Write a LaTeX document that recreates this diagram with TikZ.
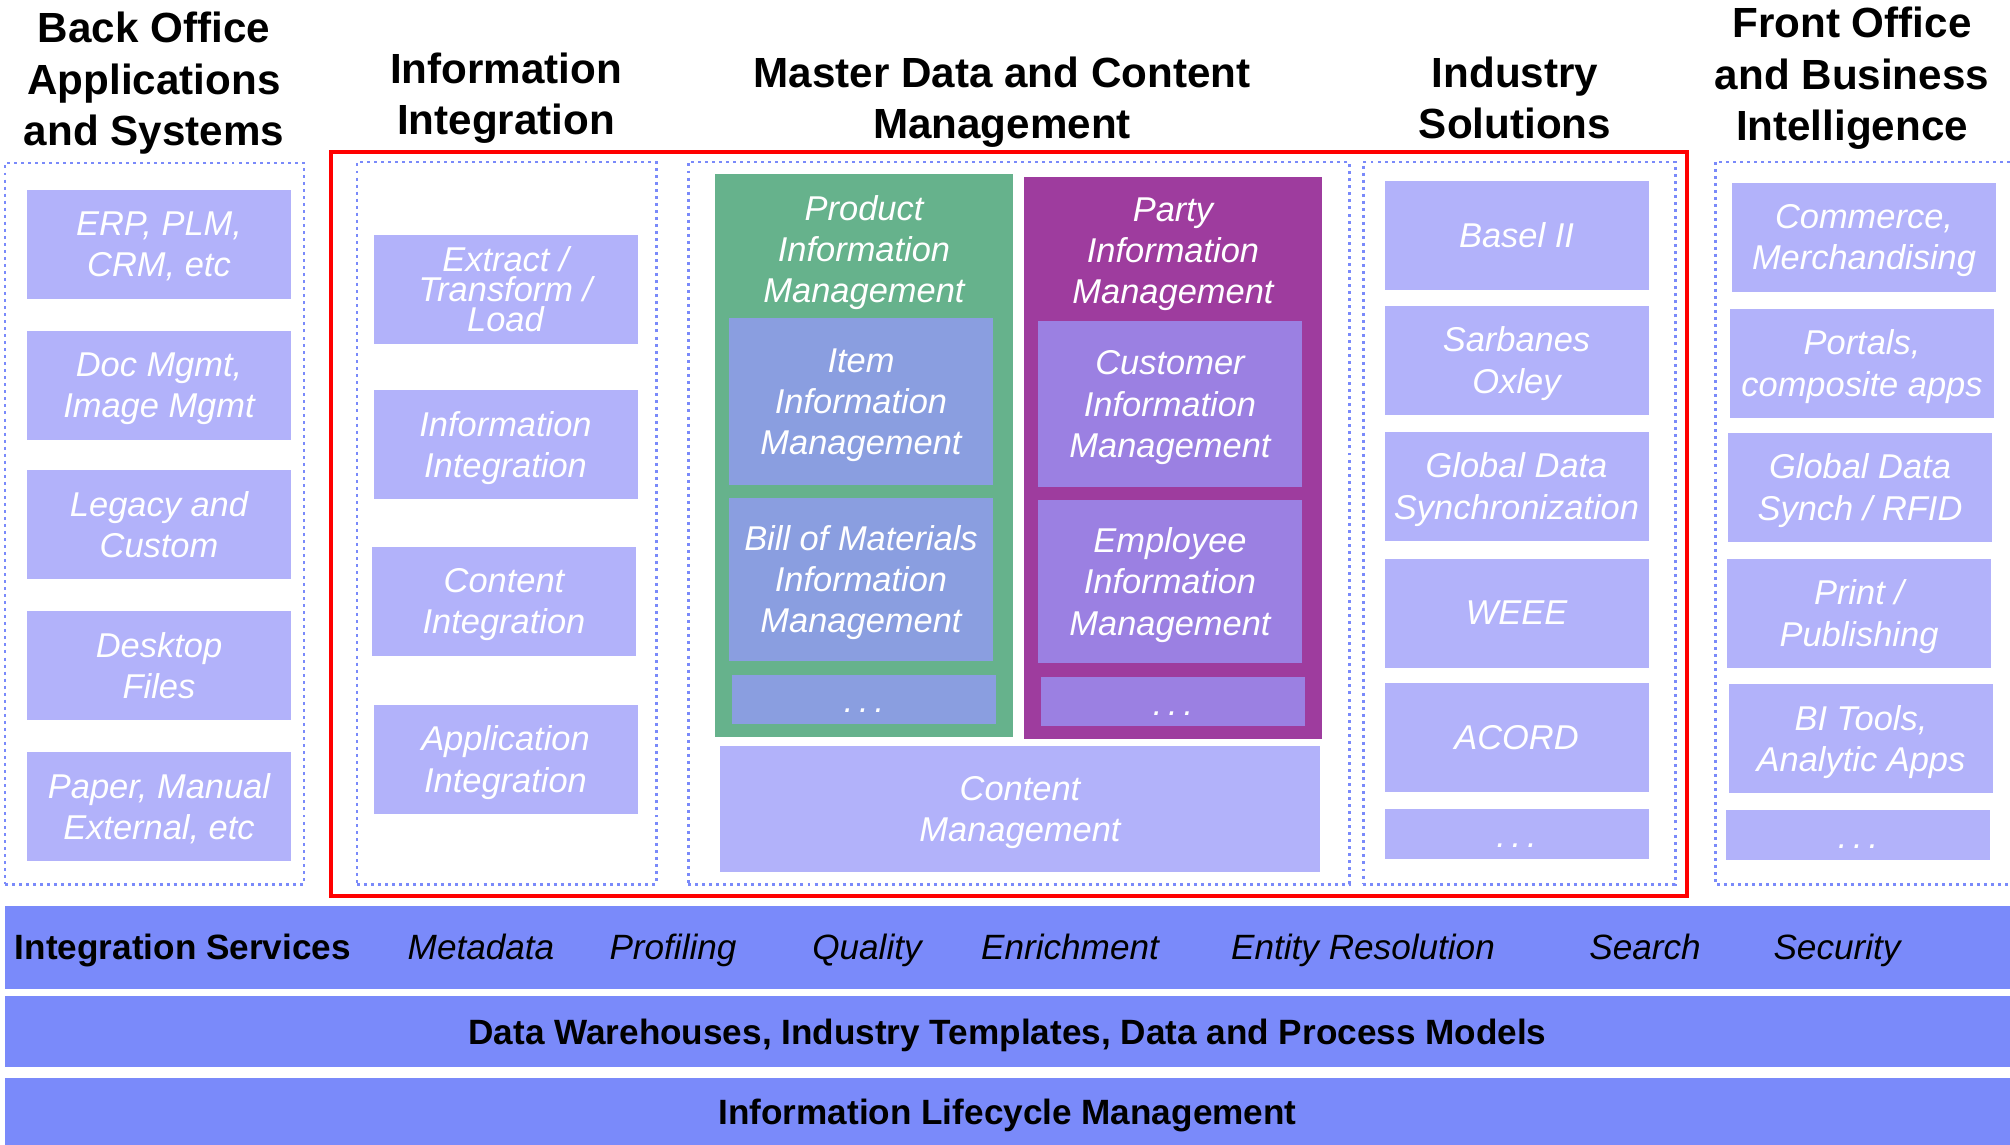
\documentclass[tikz,border=0pt]{standalone}
\usepackage{fontspec}
\setmainfont{Liberation Sans}
\usepackage{tikz}

\definecolor{appblue}{RGB}{178,178,250}
\definecolor{barblue}{RGB}{122,138,250}
\definecolor{pimgreen}{RGB}{102,178,140}
\definecolor{itemblue}{RGB}{138,158,224}
\definecolor{partypurple}{RGB}{158,60,158}
\definecolor{custviolet}{RGB}{155,128,226}

\begin{document}
\begin{tikzpicture}[x=0.1mm,y=-0.1mm]
  \tikzstyle{every node}=[inner sep=0pt,outer sep=0pt,text depth=0pt]
  \tikzstyle{title}=[font=\fontsize{12}{14.6}\selectfont\bfseries,align=center]
  \tikzstyle{group}=[draw=barblue,line width=0.85pt,dash pattern=on 0.85pt off 1.15pt]
  \tikzstyle{boxtext}=[text=white,font=\fontsize{9.8}{11.7}\selectfont\itshape,align=center]
  \tikzstyle{app}=[boxtext,fill=appblue,minimum width=26.4mm,minimum height=10.9mm]
  \tikzstyle{more}=[boxtext,minimum width=26.4mm,minimum height=5mm,text height=2.7mm]
  \tikzstyle{bar}=[fill=barblue,minimum width=200.5mm]
  \tikzstyle{service}=[font=\fontsize{10}{12}\selectfont\itshape]

  \useasboundingbox (0,0) rectangle (2010,1145);

  % column titles
  \draw (154,79) node[title] (backttl) {Back Office\\Applications\\and Systems};
  \draw (506,94) node[title] (integttl) {Information\\Integration};
  \draw (1002,98) node[title] (mdmttl) {Master Data and Content\\Management};
  \draw (1515,98) node[title] (indttl) {Industry\\Solutions};
  \draw (1852,74) node[title] (frontttl) {Front Office\\and Business\\Intelligence};

  % dotted columns
  \draw (154.5,523.5) node[group,minimum width=29.9mm,minimum height=72.1mm] (backgrp) {};
  \draw (506.5,523) node[group,minimum width=29.9mm,minimum height=72.2mm] (integgrp) {};
  \draw (1018.5,523) node[group,minimum width=66.1mm,minimum height=72.2mm] (mdmgrp) {};
  \draw (1519,523) node[group,minimum width=31.2mm,minimum height=72.2mm] (indgrp) {};
  \draw[draw=barblue,line width=0.85pt,dash pattern=on 0.85pt off 1.15pt]
    (2010,162) -- (1715,162) -- (1715,884) -- (2010,884);

  % red frame
  \draw[red,line width=1.4pt] (331,152) rectangle (1687,896);

  % back office
  \draw (159,244.5) node[app] (erp) {ERP, PLM,\\CRM, etc};
  \draw (159,385.5) node[app] (doc) {Doc Mgmt,\\Image Mgmt};
  \draw (159,524.5) node[app] (legacy) {Legacy and\\Custom};
  \draw (159,665.5) node[app] (desktop) {Desktop\\Files};
  \draw (159,806.5) node[app] (paper) {Paper, Manual\\External, etc};

  % information integration
  \draw (505.5,289) node[app,font=\fontsize{9.8}{8.5}\selectfont\itshape] (etl) {Extract /\\Transform /\\Load};
  \draw (505.5,444.5) node[app] (infoint) {Information\\Integration};
  \draw (504,601) node[app] (contint) {Content\\Integration};
  \draw (505.5,759) node[app] (appint) {Application\\Integration};

  % master data and content management
  \draw (864,455.5) node[fill=pimgreen,minimum width=29.8mm,minimum height=56.3mm] (pim) {};
  \draw (864,249) node[boxtext] (pimttl) {Product\\Information\\Management};
  \draw (861,401.5) node[app,fill=itemblue,minimum height=16.7mm] (item) {Item\\Information\\Management};
  \draw (861,579) node[app,fill=itemblue,minimum height=16.3mm] (bom) {Bill of Materials\\Information\\Management};
  \draw (864,699) node[more,fill=itemblue,minimum height=4.9mm] (pimmore) {.\,.\,.};

  \draw (1173,458) node[fill=partypurple,minimum width=29.8mm,minimum height=56.2mm] (party) {};
  \draw (1173,251) node[boxtext] (partyttl) {Party\\Information\\Management};
  \draw (1170,404) node[app,fill=custviolet,minimum height=16.6mm] (cust) {Customer\\Information\\Management};
  \draw (1170,581.5) node[app,fill=custviolet,minimum height=16.3mm] (empl) {Employee\\Information\\Management};
  \draw (1173,701.5) node[more,fill=custviolet,minimum height=4.9mm] (partymore) {.\,.\,.};

  \draw (1020,809) node[app,minimum width=60mm,minimum height=12.6mm] (content) {Content\\Management};

  % industry solutions
  \draw (1516.5,235.5) node[app] (basel) {Basel II};
  \draw (1516.5,360) node[app] (sox) {Sarbanes\\Oxley};
  \draw (1516.5,486) node[app] (gds) {Global Data\\Synchronization};
  \draw (1516.5,613) node[app] (weee) {WEEE};
  \draw (1516.5,737) node[app] (acord) {ACORD};
  \draw (1516.5,834) node[more,fill=appblue] (indmore) {.\,.\,.};

  % front office
  \draw (1864,237) node[app] (commerce) {Commerce,\\Merchandising};
  \draw (1862,363) node[app] (portals) {Portals,\\composite apps};
  \draw (1860,487) node[app] (rfid) {Global Data\\Synch / RFID};
  \draw (1859,613) node[app] (print) {Print /\\Publishing};
  \draw (1861,738.5) node[app] (bitools) {BI Tools,\\Analytic Apps};
  \draw (1858,834.5) node[more,fill=appblue] (frontmore) {.\,.\,.};

  % bottom layers
  \draw (1007.5,947.5) node[bar,minimum height=8.3mm] (services) {};
  \draw (15,946.5) node[anchor=west,font=\fontsize{10}{12}\selectfont\bfseries] (servttl) {Integration Services};
  \draw (481,946.5) node[service] (metadata) {Metadata};
  \draw (673,946.5) node[service] (profiling) {Profiling};
  \draw (867,946.5) node[service] (quality) {Quality};
  \draw (1070,946.5) node[service] (enrich) {Enrichment};
  \draw (1363,946.5) node[service] (entity) {Entity Resolution};
  \draw (1645,946.5) node[service] (search) {Search};
  \draw (1837,946.5) node[service] (security) {Security};

  \draw (1007.5,1031.5) node[bar,minimum height=7.1mm,font=\fontsize{10}{12}\selectfont\bfseries] (warehouse) {Data Warehouses, Industry Templates, Data and Process Models};
  \draw (1007.5,1111.5) node[bar,minimum height=6.7mm,font=\fontsize{10}{12}\selectfont\bfseries] (lifecycle) {Information Lifecycle Management};

\end{tikzpicture}
\end{document}
